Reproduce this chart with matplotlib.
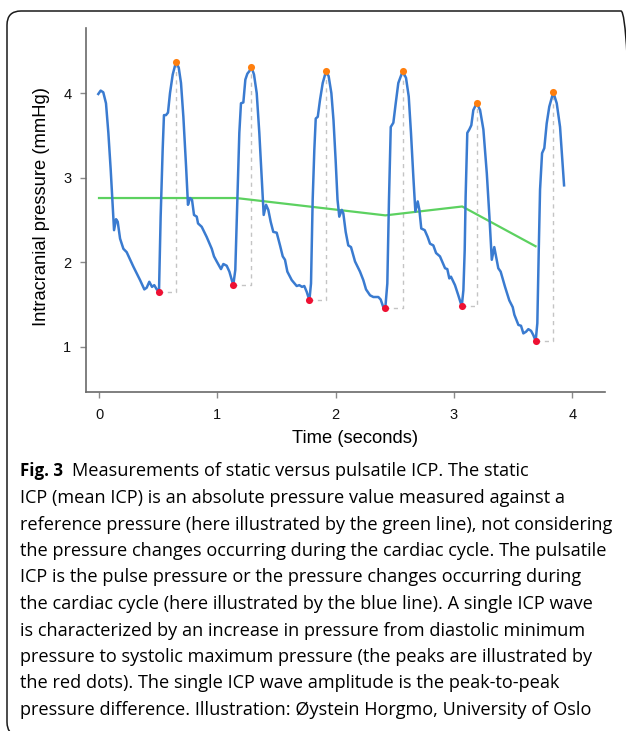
import matplotlib
matplotlib.use("Agg")
import matplotlib.pyplot as plt
from matplotlib.patches import FancyBboxPatch
from matplotlib.transforms import IdentityTransform

# ICP waveform (seconds, mmHg)
time_s = [-0.006, 0.014, 0.036, 0.059, 0.079, 0.099, 0.116, 0.127, 0.144, 0.158,
          0.178, 0.206, 0.234, 0.290, 0.347, 0.383, 0.403, 0.425, 0.448, 0.467,
          0.488, 0.507, 0.521, 0.538, 0.549, 0.566, 0.583, 0.600, 0.623, 0.651,
          0.674, 0.693, 0.713, 0.736, 0.752, 0.769, 0.786, 0.803, 0.826, 0.837,
          0.868, 0.910, 0.953, 0.972, 0.995, 1.031, 1.051, 1.079, 1.102, 1.135,
          1.152, 1.169, 1.186, 1.200, 1.220, 1.237, 1.254, 1.271, 1.288, 1.310,
          1.333, 1.355, 1.378, 1.392, 1.412, 1.431, 1.451, 1.473, 1.502, 1.530,
          1.553, 1.572, 1.592, 1.629, 1.671, 1.693, 1.716, 1.735, 1.756, 1.778,
          1.792, 1.806, 1.820, 1.832, 1.849, 1.868, 1.891, 1.919, 1.941, 1.964,
          1.982, 2.000, 2.016, 2.031, 2.052, 2.065, 2.085, 2.107, 2.130, 2.164,
          2.206, 2.234, 2.257, 2.291, 2.319, 2.361, 2.381, 2.403, 2.420, 2.437,
          2.451, 2.466, 2.488, 2.508, 2.530, 2.567, 2.595, 2.618, 2.637, 2.657,
          2.674, 2.694, 2.708, 2.724, 2.753, 2.778, 2.798, 2.826, 2.849, 2.882,
          2.925, 2.944, 2.961, 2.975, 3.009, 3.037, 3.066, 3.080, 3.091, 3.099,
          3.113, 3.130, 3.147, 3.164, 3.193, 3.221, 3.249, 3.278, 3.300, 3.320,
          3.341, 3.356, 3.375, 3.395, 3.432, 3.468, 3.497, 3.511, 3.545, 3.567,
          3.587, 3.610, 3.629, 3.652, 3.671, 3.691, 3.705, 3.717, 3.728, 3.745,
          3.764, 3.784, 3.806, 3.840, 3.869, 3.897, 3.914, 3.931]
pressure = [3.99, 4.03, 4.01, 3.88, 3.53, 3.09, 2.66, 2.38, 2.51, 2.48,
            2.28, 2.16, 2.12, 1.95, 1.79, 1.68, 1.70, 1.77, 1.71, 1.73,
            1.68, 1.65, 2.54, 3.33, 3.74, 3.74, 3.77, 4.00, 4.22, 4.37,
            4.30, 4.12, 3.72, 3.13, 2.68, 2.76, 2.74, 2.56, 2.54, 2.46,
            2.42, 2.30, 2.16, 2.07, 2.01, 1.92, 1.98, 1.96, 1.89, 1.73,
            1.91, 2.74, 3.53, 3.88, 3.89, 4.16, 4.23, 4.26, 4.31, 4.22,
            4.00, 3.53, 2.93, 2.56, 2.68, 2.62, 2.48, 2.36, 2.35, 2.20,
            2.07, 2.03, 1.89, 1.79, 1.72, 1.73, 1.71, 1.72, 1.65, 1.55,
            1.75, 2.74, 3.33, 3.70, 3.72, 3.92, 4.12, 4.26, 4.20, 4.00,
            3.68, 3.21, 2.74, 2.54, 2.62, 2.58, 2.36, 2.20, 2.18, 2.01,
            1.89, 1.79, 1.68, 1.61, 1.59, 1.59, 1.56, 1.47, 1.46, 1.75,
            2.74, 3.60, 3.65, 3.88, 4.12, 4.26, 4.18, 3.96, 3.53, 3.01,
            2.60, 2.72, 2.62, 2.40, 2.38, 2.30, 2.22, 2.20, 2.11, 2.07,
            1.93, 1.92, 1.81, 1.83, 1.73, 1.61, 1.48, 1.67, 2.14, 2.78,
            3.53, 3.57, 3.62, 3.80, 3.88, 3.80, 3.57, 3.05, 2.54, 2.03,
            2.18, 2.07, 1.93, 1.89, 1.71, 1.55, 1.47, 1.38, 1.26, 1.25,
            1.16, 1.18, 1.21, 1.19, 1.14, 1.07, 1.28, 2.14, 2.86, 3.29,
            3.35, 3.64, 3.84, 4.01, 3.88, 3.60, 3.25, 2.91]

# diastolic minima (red) and systolic maxima (orange)
trough_t = [0.507, 1.135, 1.778, 2.420, 3.066, 3.691]
trough_p = [1.65, 1.73, 1.55, 1.46, 1.48, 1.07]
peak_t = [0.651, 1.288, 1.919, 2.567, 3.193, 3.840]
peak_p = [4.37, 4.31, 4.26, 4.26, 3.88, 4.01]

# mean ICP (green)
mean_t = [0.0, 1.16, 2.42, 3.07, 3.69]
mean_p = [2.76, 2.76, 2.555, 2.66, 2.19]

x_ticks = [0, 1, 2, 3, 4]
y_ticks = [1, 2, 3, 4]

caption_head = "Fig. 3"
caption_first = "Measurements of static versus pulsatile ICP. The static"
caption_lines = [
    "ICP (mean ICP) is an absolute pressure value measured against a",
    "reference pressure (here illustrated by the green line), not considering",
    "the pressure changes occurring during the cardiac cycle. The pulsatile",
    "ICP is the pulse pressure or the pressure changes occurring during",
    "the cardiac cycle (here illustrated by the blue line). A single ICP wave",
    "is characterized by an increase in pressure from diastolic minimum",
    "pressure to systolic maximum pressure (the peaks are illustrated by",
    "the red dots). The single ICP wave amplitude is the peak-to-peak",
    "pressure difference. Illustration: \u00d8ystein Horgmo, University of Oslo",
]

W, H = 626, 731
fig = plt.figure(figsize=(W / 100, H / 100), dpi=100)
ax = fig.add_axes([86 / W, 1 - 392 / H, (605 - 86) / W, (392 - 28) / H])

for tt, tp, pt, pp in zip(trough_t, trough_p, peak_t, peak_p):
    ax.plot([tt, pt, pt], [tp, tp, pp], color="#c4c4c4", lw=1.0,
            ls=(0, (3, 3)), zorder=1)
ax.plot(mean_t, mean_p, color="#5cd160", lw=1.6, zorder=2)
ax.plot(time_s, pressure, color="#3a7bd0", lw=1.8, zorder=3,
        solid_joinstyle="round")
ax.scatter(trough_t, trough_p, s=26, color="#ee1133", zorder=4, lw=0)
ax.scatter(peak_t, peak_p, s=26, color="#ff7f0e", zorder=4, lw=0)

ax.set_xlim(-0.11, 4.277)
ax.set_ylim(0.467, 4.77)
ax.set_xticks(x_ticks)
ax.set_yticks(y_ticks)
for s in ["top", "right"]:
    ax.spines[s].set_visible(False)
for s in ["left", "bottom"]:
    ax.spines[s].set_color("#6a6a6a")
    ax.spines[s].set_linewidth(1.2)
ax.tick_params(axis="both", colors="#8a8a8a", labelcolor="#111111",
               length=4.5, width=1.0, labelsize=10.5)
ax.tick_params(axis="x", pad=7)
ax.tick_params(axis="y", pad=6)
for lab in ax.get_xticklabels() + ax.get_yticklabels():
    lab.set_family("Liberation Sans")

ax.set_xlabel("Time (seconds)", fontsize=13.2, family="Liberation Sans")
ax.set_ylabel("Intracranial pressure (mmHg)", fontsize=13.2,
              family="Liberation Sans")
ax.xaxis.set_label_coords(0.518, -0.105)
ax.yaxis.set_label_coords(-0.069, 0.51)

# caption
cap_font = ["Open Sans", "DejaVu Sans"]
cap_size = 13.1
base0 = 476.5
step = 26.5
fig.text(20 / W, 1 - base0 / H, caption_head, fontsize=12.2,
         weight="bold", family=cap_font, va="baseline", ha="left")
fig.text(72 / W, 1 - base0 / H, caption_first, fontsize=cap_size,
         family=cap_font, va="baseline", ha="left")
for i, line in enumerate(caption_lines):
    fig.text(20 / W, 1 - (base0 + (i + 1) * step) / H, line, fontsize=cap_size,
             family=cap_font, va="baseline", ha="left")

# rounded frame around the figure
frame = FancyBboxPatch((7, -5), 628, 725, boxstyle="round,pad=0,rounding_size=14",
                       transform=IdentityTransform(), fill=False,
                       edgecolor="#1a1a1a", lw=1.1, clip_on=False)
fig.patches.append(frame)

fig.savefig("out.png", dpi=100)
